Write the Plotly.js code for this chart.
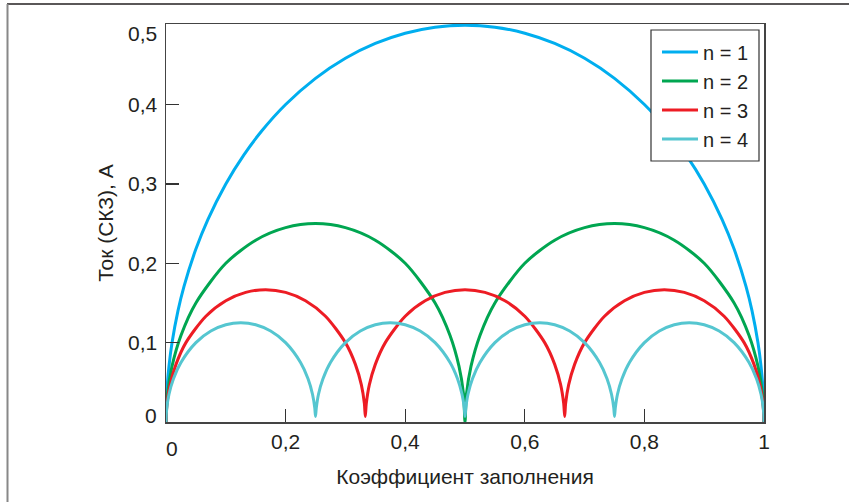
<!DOCTYPE html>
<html>
<head>
<meta charset="utf-8">
<script src="https://cdn.plot.ly/plotly-3.0.1.min.js"></script>
<style>html,body{margin:0;padding:0;background:#fff;}#chart{width:849px;height:502px;}</style>
</head>
<body>
<div id="chart"></div>
<script>
// Duty cycle (x) and RMS current (y)
const x1 = [0, 0.002, 0.005, 0.01, 0.02, 0.03, 0.05, 0.07, 0.1, 0.13, 0.16, 0.2, 0.25, 0.3, 0.35, 0.4, 0.45, 0.5,
            0.55, 0.6, 0.65, 0.7, 0.75, 0.8, 0.84, 0.87, 0.9, 0.93, 0.95, 0.97, 0.98, 0.99, 0.995, 0.998, 1];
const y1 = [0, 0.0447, 0.0705, 0.0995, 0.14, 0.1706, 0.2179, 0.2551, 0.3, 0.3363, 0.3666, 0.4, 0.433, 0.4583, 0.477, 0.4899, 0.4975, 0.5,
            0.4975, 0.4899, 0.477, 0.4583, 0.433, 0.4, 0.3666, 0.3363, 0.3, 0.2551, 0.2179, 0.1706, 0.14, 0.0995, 0.0705, 0.0447, 0];

const x2 = [0, 0.0025, 0.01, 0.025, 0.05, 0.1, 0.15, 0.2, 0.25, 0.3, 0.35, 0.4, 0.45, 0.475, 0.49, 0.4975, 0.5,
            0.5025, 0.51, 0.525, 0.55, 0.6, 0.65, 0.7, 0.75, 0.8, 0.85, 0.9, 0.95, 0.975, 0.99, 0.9975, 1];
const y2 = [0, 0.0353, 0.07, 0.109, 0.15, 0.2, 0.2291, 0.2449, 0.25, 0.2449, 0.2291, 0.2, 0.15, 0.109, 0.07, 0.0353, 0,
            0.0353, 0.07, 0.109, 0.15, 0.2, 0.2291, 0.2449, 0.25, 0.2449, 0.2291, 0.2, 0.15, 0.109, 0.07, 0.0353, 0];

const x3 = [0, 0.0017, 0.0067, 0.0167, 0.0333, 0.0667, 0.1, 0.1333, 0.1667, 0.2, 0.2333, 0.2667, 0.3, 0.3167, 0.3267, 0.3317, 0.3333,
            0.335, 0.34, 0.35, 0.3667, 0.4, 0.4333, 0.4667, 0.5, 0.5333, 0.5667, 0.6, 0.6333, 0.65, 0.66, 0.665, 0.6667,
            0.6683, 0.6733, 0.6833, 0.7, 0.7333, 0.7667, 0.8, 0.8333, 0.8667, 0.9, 0.9333, 0.9667, 0.9833, 0.9933, 0.9983, 1];
const y3 = [0, 0.0235, 0.0467, 0.0726, 0.1, 0.1333, 0.1528, 0.1633, 0.1667, 0.1633, 0.1528, 0.1333, 0.1, 0.0726, 0.0467, 0.0235, 0.007,
            0.0235, 0.0467, 0.0726, 0.1, 0.1333, 0.1528, 0.1633, 0.1667, 0.1633, 0.1528, 0.1333, 0.1, 0.0726, 0.0467, 0.0235, 0.007,
            0.0235, 0.0467, 0.0726, 0.1, 0.1333, 0.1528, 0.1633, 0.1667, 0.1633, 0.1528, 0.1333, 0.1, 0.0726, 0.0467, 0.0235, 0];

const x4 = [0, 0.0013, 0.005, 0.0125, 0.025, 0.05, 0.075, 0.1, 0.125, 0.15, 0.175, 0.2, 0.225, 0.2375, 0.245, 0.2488, 0.25,
            0.2513, 0.255, 0.2625, 0.275, 0.3, 0.325, 0.35, 0.375, 0.4, 0.425, 0.45, 0.475, 0.4875, 0.495, 0.4988, 0.5,
            0.5013, 0.505, 0.5125, 0.525, 0.55, 0.575, 0.6, 0.625, 0.65, 0.675, 0.7, 0.725, 0.7375, 0.745, 0.7488, 0.75,
            0.7513, 0.755, 0.7625, 0.775, 0.8, 0.825, 0.85, 0.875, 0.9, 0.925, 0.95, 0.975, 0.9875, 0.995, 0.9988, 1];
const y4 = [0, 0.0176, 0.035, 0.0545, 0.075, 0.1, 0.1146, 0.1225, 0.125, 0.1225, 0.1146, 0.1, 0.075, 0.0545, 0.035, 0.0176, 0.007,
            0.0176, 0.035, 0.0545, 0.075, 0.1, 0.1146, 0.1225, 0.125, 0.1225, 0.1146, 0.1, 0.075, 0.0545, 0.035, 0.0176, 0.007,
            0.0176, 0.035, 0.0545, 0.075, 0.1, 0.1146, 0.1225, 0.125, 0.1225, 0.1146, 0.1, 0.075, 0.0545, 0.035, 0.0176, 0.007,
            0.0176, 0.035, 0.0545, 0.075, 0.1, 0.1146, 0.1225, 0.125, 0.1225, 0.1146, 0.1, 0.075, 0.0545, 0.035, 0.0176, 0];

const seriesNames = ['n = 1', 'n = 2', 'n = 3', 'n = 4'];
const colors = ['#00AEEF', '#00A651', '#ED1C24', '#55C6D0'];
const xTickVals = [0.2, 0.4, 0.6, 0.8, 1];
const xTickText = ['0,2', '0,4', '0,6', '0,8', '1'];
const yTickVals = [0.1, 0.2, 0.3, 0.4];
const yTickText = ['0,1', '0,2', '0,3', '0,4'];

const xs = [x1, x2, x3, x4];
const ys = [y1, y2, y3, y4];
const traces = xs.map((xv, i) => ({
  x: xv, y: ys[i], name: seriesNames[i], type: 'scatter', mode: 'lines',
  line: {color: colors[i], width: 3, shape: 'spline', smoothing: 0.8}
}));

const font = {family: 'Liberation Sans, Arial, sans-serif', size: 21, color: '#231F20'};
const legFont = {family: 'Liberation Sans, Arial, sans-serif', size: 20, color: '#231F20'};
const L = 166, R = 764, T = 24, B = 422;
const px = p => (p - L) / (R - L);
const py = p => (B - p) / (B - T);

const layout = {
  width: 849, height: 502,
  margin: {l: L, r: 849 - R, t: T, b: 502 - B, pad: 0},
  paper_bgcolor: '#fff', plot_bgcolor: '#fff',
  font: font,
  showlegend: true,
  legend: {x: px(657), y: py(32.5), xanchor: 'left', yanchor: 'top', bgcolor: 'rgba(0,0,0,0)',
           borderwidth: 0, font: legFont, itemwidth: 36},
  xaxis: {range: [0, 1], tickvals: xTickVals, ticktext: xTickText, ticks: 'inside', ticklen: 13,
          tickwidth: 1.2, tickcolor: '#333', showline: true, mirror: true, linecolor: '#444', linewidth: 1.5,
          showgrid: false, zeroline: false, fixedrange: true,
          title: {text: 'Коэффициент заполнения', font: font, standoff: 17}},
  yaxis: {range: [0, 0.5015], tickvals: yTickVals, ticktext: yTickText, ticks: 'inside', ticklen: 13,
          tickwidth: 1.2, tickcolor: '#333', showline: true, mirror: true, linecolor: '#444', linewidth: 1.5,
          showgrid: false, zeroline: false, fixedrange: true, ticklabelstandoff: 3,
          title: {text: 'Ток (СКЗ), А', font: font, standoff: 8}},
  annotations: [
    {xref: 'paper', yref: 'paper', x: px(172), y: py(448), text: '0', showarrow: false, font: font, xanchor: 'center', yanchor: 'middle'},
    {xref: 'paper', yref: 'paper', x: px(159), y: py(415), text: '0', showarrow: false, font: font, xanchor: 'right', yanchor: 'middle'},
    {xref: 'paper', yref: 'paper', x: px(159), y: py(33), text: '0,5', showarrow: false, font: font, xanchor: 'right', yanchor: 'middle'}
  ],
  shapes: [
    {type: 'line', xref: 'paper', yref: 'paper', x0: px(7), x1: px(849), y0: py(4), y1: py(4), line: {color: '#231F20', width: 1.5}},
    {type: 'line', xref: 'paper', yref: 'paper', x0: px(7.5), x1: px(7.5), y0: py(4), y1: py(502), line: {color: '#888', width: 2}},
    {type: 'rect', xref: 'paper', yref: 'paper', x0: px(651), x1: px(759), y0: py(161), y1: py(30),
     line: {color: '#333', width: 1.2}, fillcolor: '#fff', layer: 'above'}
  ]
};

Plotly.newPlot('chart', traces, layout, {displayModeBar: false, staticPlot: true});
</script>
</body>
</html>
